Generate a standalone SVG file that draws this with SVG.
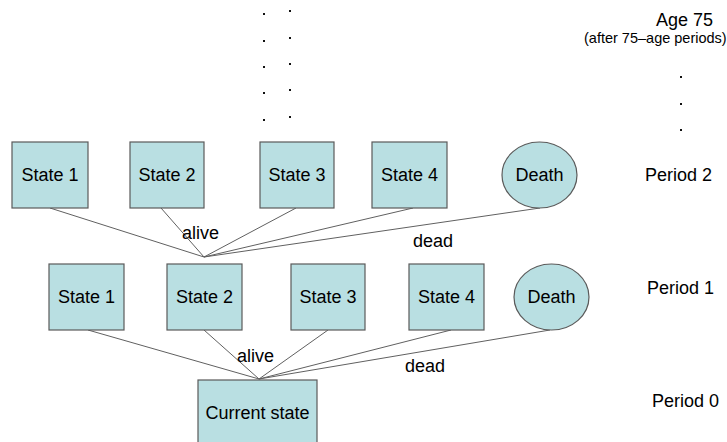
<svg xmlns="http://www.w3.org/2000/svg" width="727" height="442" viewBox="0 0 727 442">
<style>
.n{fill:#B9DFE2;stroke:#5a5a5a;stroke-width:1.2}
.t{font-family:"Liberation Sans",Arial,sans-serif;font-size:18px;fill:#000}
.c{text-anchor:middle}
.e{stroke:#606060;stroke-width:1;fill:none}
.d{fill:#111}
</style>
<rect width="727" height="442" fill="#fff"/>
<g id="dots">
<rect class="d" x="263" y="13" width="2" height="2"/><rect class="d" x="263" y="40" width="2" height="2"/><rect class="d" x="263" y="66" width="2" height="2"/><rect class="d" x="263" y="92" width="2" height="2"/><rect class="d" x="263" y="119" width="2" height="2"/>
<rect class="d" x="289" y="10" width="2" height="2"/><rect class="d" x="289" y="37" width="2" height="2"/><rect class="d" x="289" y="63" width="2" height="2"/><rect class="d" x="289" y="89" width="2" height="2"/><rect class="d" x="289" y="116" width="2" height="2"/>
<rect class="d" x="680" y="76" width="2" height="2"/><rect class="d" x="680" y="103" width="2" height="2"/><rect class="d" x="680" y="129" width="2" height="2"/>
</g>
<g id="connectors">
<path class="e" d="M50 208L204 257M161 208L204 257M296 208L204 257M413 208L204 257M540 208L204 257"/>
<path class="e" d="M88 330L259 379M204 330L259 379M328 330L259 379M451 330L259 379M550 330L259 379"/>
<text class="t" x="182" y="239">alive</text>
<text class="t" x="413" y="247">dead</text>
<text class="t" x="237" y="362">alive</text>
<text class="t" x="405" y="372">dead</text>
</g>
<g id="p2s1"><rect class="n" x="12" y="142" width="76" height="66"/><text class="t c" x="50" y="181">State 1</text></g>
<g id="p2s2"><rect class="n" x="130" y="142" width="74" height="66"/><text class="t c" x="167" y="181">State 2</text></g>
<g id="p2s3"><rect class="n" x="260" y="142" width="74" height="66"/><text class="t c" x="297" y="181">State 3</text></g>
<g id="p2s4"><rect class="n" x="372" y="142" width="75" height="66"/><text class="t c" x="409.5" y="181">State 4</text></g>
<g id="p2death"><ellipse class="n" cx="539.5" cy="175" rx="37.5" ry="33"/><text class="t c" x="539.5" y="181">Death</text></g>
<g id="p1s1"><rect class="n" x="49" y="264" width="75" height="66"/><text class="t c" x="86.5" y="303">State 1</text></g>
<g id="p1s2"><rect class="n" x="167" y="264" width="75" height="66"/><text class="t c" x="204.5" y="303">State 2</text></g>
<g id="p1s3"><rect class="n" x="291" y="264" width="74" height="66"/><text class="t c" x="328" y="303">State 3</text></g>
<g id="p1s4"><rect class="n" x="409" y="264" width="75" height="66"/><text class="t c" x="446.5" y="303">State 4</text></g>
<g id="p1death"><ellipse class="n" cx="551.5" cy="297" rx="37.5" ry="33"/><text class="t c" x="551.5" y="303">Death</text></g>
<g id="current"><rect class="n" x="198" y="380" width="119" height="66"/><text class="t c" x="257.5" y="419">Current state</text></g>
<g id="labels">
<text class="t" x="656" y="26">Age 75</text>
<text class="t" x="584" y="42.5" style="font-size:14.5px">(after 75–age periods)</text>
<text class="t" x="645" y="181">Period 2</text>
<text class="t" x="647" y="294">Period 1</text>
<text class="t" x="652" y="407">Period 0</text>
</g>
</svg>
